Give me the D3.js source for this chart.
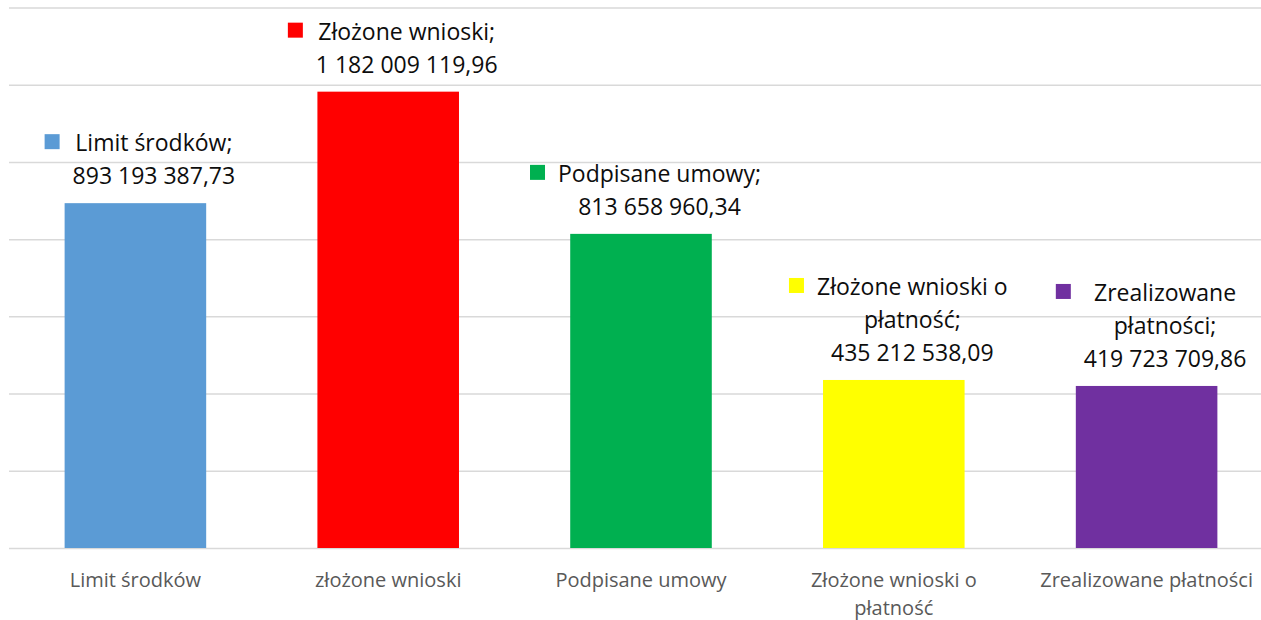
<!DOCTYPE html>
<html lang="pl">
<head>
  <meta charset="UTF-8">
  <title>Wnioski i płatności</title>
  <script src="https://d3js.org/d3.v7.min.js"></script>
  <style>
    body { margin: 0; background: #fff; overflow: hidden; }
    svg { display: block; font-family: "Open Sans", "Noto Sans", sans-serif; }
  </style>
</head>
<body>
  <svg width="1261" height="620"></svg>

  <script>
    // Categories on the x axis ("\n" marks a line break)
    const categories = [
      "Limit środków",
      "złożone wnioski",
      "Podpisane umowy",
      "Złożone wnioski o\npłatność",
      "Zrealizowane płatności"
    ];

    // Series names shown in the data labels, split into lines
    const labelNames = [
      ["Limit środków;"],
      ["Złożone wnioski;"],
      ["Podpisane umowy;"],
      ["Złożone wnioski o", "płatność;"],
      ["Zrealizowane", "płatności;"]
    ];

    const values = [893193387.73, 1182009119.96, 813658960.34, 435212538.09, 419723709.86];
    const colors = ["#5b9bd5", "#ff0000", "#00b050", "#ffff00", "#7030a0"];
    const yTicks = [0, 200e6, 400e6, 600e6, 800e6, 1000e6, 1200e6, 1400e6];

    const data = categories.map((c, i) => ({
      cat: c, name: labelNames[i], value: values[i], color: colors[i]
    }));

    // Polish number format: space for thousands, comma for decimals
    const pl = d3.formatLocale({ decimal: ",", thousands: " ", grouping: [3], currency: ["", ""] });
    const fmt = pl.format(",.2f");

    const svg = d3.select("svg");

    const x = d3.scaleBand()
      .domain(categories)
      .range([9, 1273])
      .paddingInner(0.44)
      .paddingOuter(0.22);

    const y = d3.scaleLinear()
      .domain([0, 1400e6])
      .range([548, 7.5]);

    // Gridlines
    const grid = svg.append("g")
      .attr("transform", "translate(9,0)")
      .call(d3.axisLeft(y).tickValues(yTicks).tickSize(-1264).tickFormat(""));
    grid.select(".domain").remove();
    grid.selectAll("line").attr("stroke", "#d9d9d9").attr("stroke-width", 1.5);

    // Bars
    svg.selectAll(".bar")
      .data(data)
      .enter().append("rect")
      .attr("class", "bar")
      .attr("x", d => x(d.cat))
      .attr("y", d => y(d.value))
      .attr("width", x.bandwidth())
      .attr("height", d => y(0) - y(d.value))
      .attr("fill", d => d.color);

    // X axis labels
    const xAxis = svg.append("g")
      .attr("transform", `translate(0,${y(0)})`)
      .call(d3.axisBottom(x).tickSize(0).tickPadding(0));
    xAxis.select(".domain").remove();
    xAxis.selectAll(".tick text").each(function(d) {
      const t = d3.select(this).text(null)
        .attr("y", 39).attr("dy", null)
        .attr("fill", "#595959")
        .attr("font-size", 20)
        .attr("font-family", "'Open Sans', sans-serif");
      d.split("\n").forEach((line, i) => {
        t.append("tspan").attr("x", 0).attr("y", 39 + i * 28).text(line);
      });
    });

    // Data labels with legend keys
    const lineH = 33;
    const labels = svg.selectAll(".lbl")
      .data(data)
      .enter().append("g")
      .attr("class", "lbl");

    labels.each(function(d) {
      const g = d3.select(this);
      const lines = d.name.concat([fmt(d.value)]);
      const cx = x(d.cat) + x.bandwidth() / 2 + 18.5;
      const lastBase = y(d.value) - 19;
      const firstBase = lastBase - (lines.length - 1) * lineH;
      let maxW = 0;
      lines.forEach((line, i) => {
        const t = g.append("text")
          .attr("x", cx)
          .attr("y", firstBase + i * lineH)
          .attr("text-anchor", "middle")
          .attr("font-size", 23)
          .attr("fill", "#0d0d0d")
          .text(line);
        maxW = Math.max(maxW, t.node().getComputedTextLength());
      });
      g.append("rect")
        .attr("x", cx - maxW / 2 - 13 - 15)
        .attr("y", firstBase - 17)
        .attr("width", 15)
        .attr("height", 15)
        .attr("fill", d.color);
    });
  </script>
</body>
</html>
